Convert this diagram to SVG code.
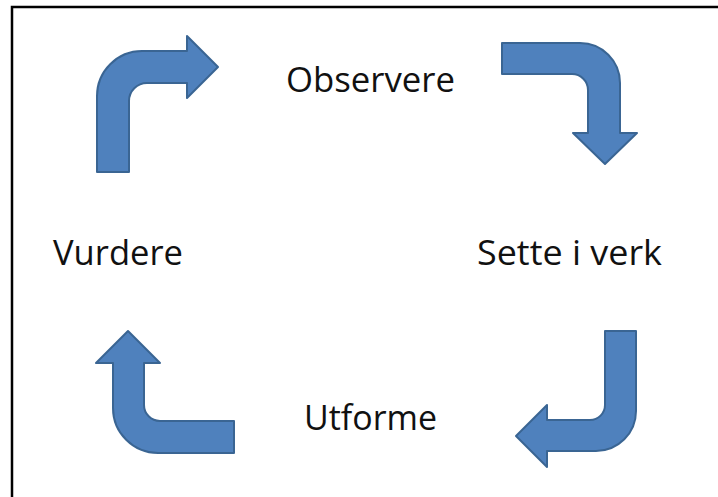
<svg xmlns="http://www.w3.org/2000/svg" width="718" height="497" viewBox="0 0 718 497">
  <style>
    .arrow { fill: #4F81BD; stroke: #3A6593; stroke-width: 2; stroke-linejoin: round; }
    .label { font-family: "Open Sans", "Noto Sans", "Liberation Sans", sans-serif; font-size: 35px; fill: #111; }
    .frame { stroke: #000; stroke-width: 2.5; fill: none; }
  </style>
  <rect width="718" height="497" fill="#fff"/>
  <!-- frame edges (top and left) -->
  <path class="frame" d="M 12,497 L 12,7 L 718,7"/>

  <g id="connectors">
    <!-- top-left: up then right -->
    <path class="arrow" d="M 97,172 L 97,96 A 45,45 0 0 1 142,51 L 187,51 L 187,36 L 218,67 L 187,98 L 187,83 L 147,83 A 18,18 0 0 0 129,101 L 129,172 Z"/>
    <!-- top-right: right then down -->
    <path class="arrow" d="M 502,43 L 580,43 A 40,40 0 0 1 620,83 L 620,133 L 637,133 L 605,164 L 573,133 L 588,133 L 588,90 A 16,16 0 0 0 572,74 L 502,74 Z"/>
    <!-- bottom-right: down then left -->
    <path class="arrow" d="M 605,331 L 636,331 L 636,411 A 40,40 0 0 1 596,451 L 547,451 L 547,467 L 516,436 L 547,405 L 547,420 L 590,420 A 15,15 0 0 0 605,405 Z"/>
    <!-- bottom-left: left then up -->
    <path class="arrow" d="M 234,421 L 160,421 A 16,16 0 0 1 144,405 L 144,363 L 160,363 L 128,331 L 96,363 L 113,363 L 113,408 A 45,45 0 0 0 158,453 L 234,453 Z"/>
  </g>

  <g id="observere"><text class="label" x="286" y="92" textLength="169" lengthAdjust="spacingAndGlyphs">Observere</text></g>
  <g id="sette-i-verk"><text class="label" x="477" y="265" textLength="185" lengthAdjust="spacingAndGlyphs">Sette i verk</text></g>
  <g id="utforme"><text class="label" x="304" y="430" textLength="133" lengthAdjust="spacingAndGlyphs">Utforme</text></g>
  <g id="vurdere"><text class="label" x="53" y="265" textLength="130" lengthAdjust="spacingAndGlyphs">Vurdere</text></g>
</svg>
